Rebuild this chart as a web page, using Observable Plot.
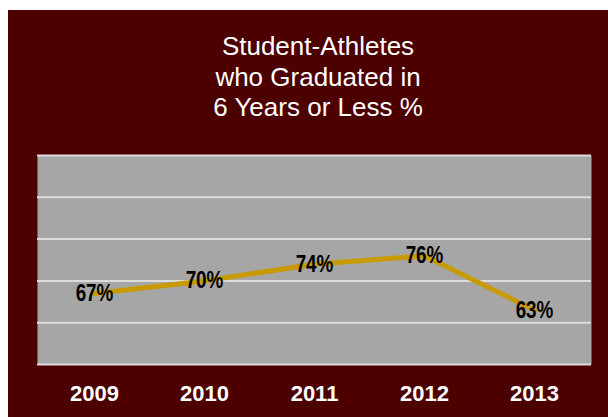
<!DOCTYPE html>
<html>
<head>
<meta charset="utf-8">
<script src="https://cdn.jsdelivr.net/npm/d3@7"></script>
<script src="https://cdn.jsdelivr.net/npm/@observablehq/plot@0.6"></script>
<style>
  html, body { margin: 0; padding: 0; background: #ffffff; }
  body { width: 608px; height: 417px; position: relative; overflow: hidden; font-family: "Liberation Sans", Arial, sans-serif; }
  #panel { position: absolute; left: 8px; top: 10px; width: 600px; height: 407px; background: #4c0000; }
  #title { position: absolute; left: 10px; width: 600px; top: 21px; text-align: center; color: #ffffff; font-size: 26px; line-height: 30.5px; }
  #chart { position: absolute; left: 0; top: 130px; }
</style>
</head>
<body>
<div id="panel">
  <div id="title">Student-Athletes<br>who Graduated in<br>6 Years or Less %</div>
  <div id="chart"></div>
</div>
<script>
const years = ["2009", "2010", "2011", "2012", "2013"];
const rates = [67, 70, 74, 76, 63];
const gridTicks = [50, 60, 70, 80, 90, 100];

const data = years.map((y, i) => ({year: y, rate: rates[i]}));

const chart = Plot.plot({
  width: 600,
  height: 277,
  marginLeft: 29,
  marginRight: 17,
  marginTop: 15,
  marginBottom: 53,
  style: {background: "transparent", fontFamily: "'Liberation Sans', Arial, sans-serif"},
  x: {type: "point", domain: years, padding: 0.5, label: null},
  y: {domain: [50, 100], label: null, axis: null},
  marks: [
    Plot.frame({fill: "#a6a6a6", stroke: null}),
    Plot.ruleY(gridTicks, {stroke: "#dcdcdc", strokeWidth: 2}),
    Plot.axisX({tickSize: 0, tickPadding: 21, fontSize: 22, fontWeight: "bold", fill: "#ffffff", color: "#ffffff", label: null}),
    Plot.line(data, {x: "year", y: "rate", stroke: "#c99a00", strokeWidth: 5}),
    Plot.text(data, {x: "year", y: "rate", text: d => d.rate + "%", fontSize: 23, fontWeight: "bold", fill: "#000000", textAnchor: "middle", lineAnchor: "middle"})
  ]
});
document.getElementById("chart").appendChild(chart);

// condensed look for the value labels
chart.querySelectorAll('g[aria-label="text"] text').forEach(t => {
  const tr = t.getAttribute("transform");
  if (tr) {
    t.setAttribute("transform", tr + " scale(0.82,1)");
  } else {
    const x = +t.getAttribute("x") || 0, y = +t.getAttribute("y") || 0;
    t.removeAttribute("x"); t.removeAttribute("y");
    t.setAttribute("transform", `translate(${x},${y}) scale(0.82,1)`);
  }
});
</script>
</body>
</html>
